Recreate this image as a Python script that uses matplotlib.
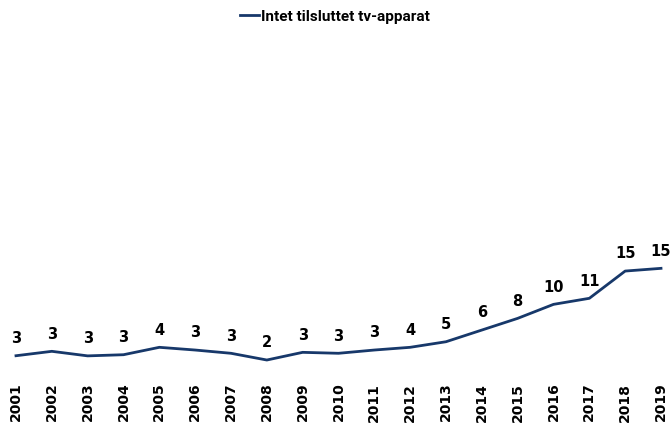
import numpy as np
import matplotlib
matplotlib.use('Agg')
import matplotlib.pyplot as plt

# --- data ---
years = [str(y) for y in range(2001, 2020)]
values = [2.54, 3.19, 2.52, 2.69, 3.78, 3.38, 2.90, 1.91, 3.04, 2.90,
          3.38, 3.78, 4.60, 6.32, 8.04, 10.10, 10.99, 15.00, 15.40]
series_name = 'Intet tilsluttet tv-apparat'

LINE_COLOR = '#17386a'

fig = plt.figure(figsize=(6.7, 4.23), dpi=100)
ax = fig.add_axes([16 / 670, 1 - 373 / 423, 645 / 670, 333 / 423])

x = np.arange(len(years))
ax.plot(x, values, color=LINE_COLOR, linewidth=2, label=series_name, clip_on=False)

for xi, v in zip(x, values):
    ax.annotate(f'{v:.0f}', (xi, v), xytext=(0, 7), textcoords='offset points',
                ha='center', va='bottom', fontsize=10.5, fontweight='bold', color='black')

ax.set_xlim(0, len(years) - 1)
ax.set_ylim(0, 49)
ax.set_xticks(x)
ax.set_xticklabels(years, rotation=90, fontsize=10, fontweight='bold')
ax.tick_params(axis='x', length=0, pad=7)
ax.set_yticks([])
for s in ax.spines.values():
    s.set_visible(False)

leg = fig.legend(loc='upper center', bbox_to_anchor=(0.5, 1.01), frameon=False,
                 prop={'family': 'Roboto', 'size': 11, 'weight': 'bold'},
                 handlelength=1.2, handletextpad=0.15)

fig.savefig('out.png', dpi=100)
